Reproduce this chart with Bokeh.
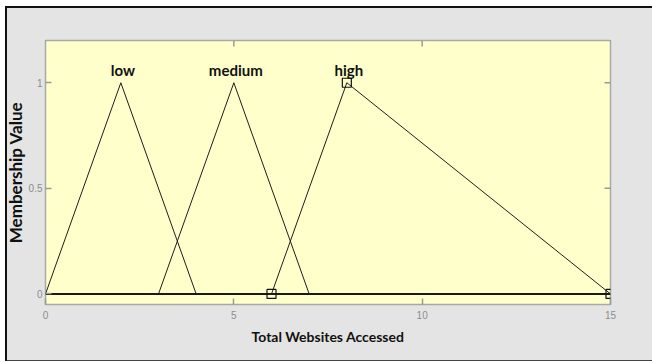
import math
from bokeh.plotting import figure
from bokeh.models import Range1d, FixedTicker, InlineStyleSheet
from bokeh.embed import file_html
from bokeh.resources import INLINE
from bokeh.core.properties import value

# Input variable: total websites accessed, membership functions (triangular a, b, c)
x_limits = [0, 15]
y_limits = [-0.05, 1.2]
mf_names = ["low", "medium", "high"]
mf_a = [0, 3, 6]
mf_b = [2, 5, 8]
mf_c = [4, 7, 15]
mf_peak = [1, 1, 1]
x_ticks = [0, 5, 10, 15]
y_ticks = [0, 0.5, 1]
y_tick_labels = {0: "0", 0.5: "0.5", 1: "1"}
selected = "high"

W, H = 652, 362
TICK_GREY = "#8C8C8C"
TICK_LINE = "#9A9A9A"
LABEL_FONT = "Lato"

p = figure(
    width=W, height=H,
    x_range=Range1d(*x_limits), y_range=Range1d(*y_limits),
    output_backend="svg", toolbar_location=None,
    min_border_left=45, min_border_right=42, min_border_top=40, min_border_bottom=58,
    background_fill_color="#FFFFCC", border_fill_color="#E4E4E4",
    outline_line_color="#A8A8A8", outline_line_width=1.5,
)
p.grid.visible = False

# white page margin and the dark window frame, painted over the canvas edges
p.stylesheets = [InlineStyleSheet(css="""
:host { position: relative; }
:host::before {
  content: ""; position: absolute; left: 0; top: 0; width: 652px; height: 362px;
  pointer-events: none; z-index: 10;
  background:
    linear-gradient(#ffffff, #ffffff) 0 0 / 5px 362px no-repeat,
    linear-gradient(#ffffff, #ffffff) 0 0 / 652px 6px no-repeat,
    linear-gradient(#111111, #111111) 5px 6px / 647px 2px no-repeat,
    linear-gradient(#111111, #111111) 5px 6px / 2px 355px no-repeat,
    linear-gradient(#444444, #444444) 5px 360px / 647px 1px no-repeat,
    linear-gradient(#ffffff, #ffffff) 0 361px / 652px 1px no-repeat;
}
""")]


def style_axis(ax):
    ax.axis_line_color = None
    ax.major_tick_in = 6
    ax.major_tick_out = 0
    ax.minor_tick_line_color = None
    ax.major_tick_line_color = TICK_LINE
    ax.major_tick_line_width = 1.5
    ax.major_label_text_color = TICK_GREY
    ax.major_label_text_font = "Liberation Sans"
    ax.major_label_text_font_size = "10px"
    ax.axis_label_text_font = LABEL_FONT
    ax.axis_label_text_font_style = "bold"
    ax.axis_label_text_color = "#111111"


xax = p.xaxis[0]
xax.ticker = FixedTicker(ticks=x_ticks)
style_axis(xax)
xax.major_label_standoff = 6
xax.axis_label = "Total Websites Accessed"
xax.axis_label_text_font_size = "14px"
xax.axis_label_standoff = 6

yax = p.yaxis[0]
yax.ticker = FixedTicker(ticks=y_ticks)
yax.major_label_overrides = y_tick_labels
style_axis(yax)
yax.major_label_standoff = 3
yax.axis_label = "Membership Value"
yax.axis_label_text_font_size = "17px"
yax.axis_label_standoff = 0

# inward tick marks on the top and right edges of the box
p.ray(x=x_ticks[1:-1], y=[y_limits[1]] * (len(x_ticks) - 2), length=6,
      length_units="screen", angle=-math.pi / 2, line_color=TICK_LINE, line_width=1.5)
p.ray(x=[x_limits[1]] * len(y_ticks), y=y_ticks, length=6,
      length_units="screen", angle=math.pi, line_color=TICK_LINE, line_width=1.5)

# zero baseline across the whole universe of discourse
p.line(x_limits, [0, 0], line_color="#1A1A1A", line_width=2)

# triangular membership functions
for a, b, c, h in zip(mf_a, mf_b, mf_c, mf_peak):
    p.line([a, b, c], [0, h, 0], line_color="#1E1E1E", line_width=1)

# vertex handles of the selected function
i = mf_names.index(selected)
p.scatter([mf_a[i], mf_b[i], mf_c[i]], [0, mf_peak[i], 0], marker="square",
          size=9, fill_color=None, line_color="#111111", line_width=1.2)

# function names above their peaks
label_offset = 0.06
p.text(x=mf_b, y=[h + label_offset for h in mf_peak], text=mf_names, x_offset=2,
       text_font=value(LABEL_FONT), text_font_style="bold", text_font_size="15px",
       text_align="center", text_baseline="alphabetic", text_color="#111111")

open("out.html", "w").write(file_html(p, INLINE))
